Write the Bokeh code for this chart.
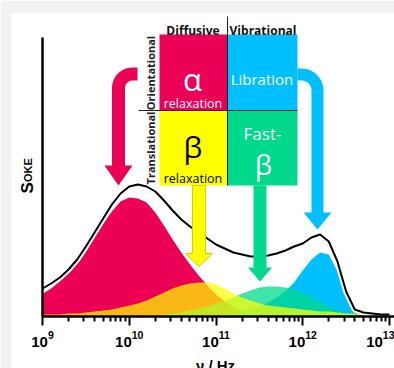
import math
from bokeh.plotting import figure
from bokeh.models import Range1d, LinearScale, FixedTicker, LinearAxis, LogAxis
from bokeh.core.properties import value
from bokeh.embed import file_html
from bokeh.resources import INLINE

# ---- data (heights in px above the baseline) ----
log_nu = [9.0, 9.1, 9.2, 9.3, 9.4, 9.5, 9.6, 9.7, 9.8, 9.9,
          10.0, 10.1, 10.2, 10.3, 10.4, 10.5, 10.6, 10.7, 10.8, 10.9,
          11.0, 11.1, 11.2, 11.3, 11.4, 11.5, 11.6, 11.7, 11.8, 11.9,
          12.0, 12.1, 12.2, 12.3, 12.4, 12.5, 12.6, 12.7, 12.8, 12.9, 13.0]
alpha_relax = [22.5, 28, 35, 44, 54, 66, 79, 93, 105, 115,
               119, 118, 114, 104, 91, 77, 64, 52, 41, 31,
               22, 15, 9, 5, 3, 1.5, 0.5, 0, 0, 0,
               0, 0, 0, 0, 0, 0, 0, 0, 0, 0, 0]
beta_relax = [2, 2, 2, 3, 3, 4, 5, 6, 7, 9,
              11, 13, 16, 20, 24, 28, 31, 33, 34, 34,
              32, 28, 23, 19, 16, 13, 11, 10, 9, 8,
              7, 6, 5, 5, 4, 3, 3, 2, 2, 2, 1]
fast_beta = [0, 0, 0, 0, 0, 0, 0, 0, 0, 0,
             0, 0, 0, 1, 2, 3, 4, 6, 8, 10,
             13, 16, 19, 23, 26, 29, 30, 30, 29, 27,
             24, 20, 15, 10, 6, 3, 1, 0, 0, 0, 0]
libration = [0, 0, 0, 0, 0, 0, 0, 0, 0, 0,
             0, 0, 0, 0, 0, 0, 0, 0, 0, 0,
             1, 2, 3, 5, 7, 10, 14, 19, 25, 34,
             46, 57, 64, 62, 45, 20, 4, 1, 0, 0, 0]
total_soke = [28, 33, 39, 47, 57, 70, 84, 98, 112, 123,
              130, 132, 130, 125, 116, 106, 97, 90, 84, 78,
              72, 68, 64, 62, 60, 60, 61, 63, 66, 70,
              73, 79, 82, 75, 55, 25, 7, 4, 3, 2, 2]
decades = [9, 10, 11, 12, 13]

nu = [10 ** v for v in log_nu]

RED, YEL, GRN, BLU = "#eb0055", "#ffff00", "#00d98b", "#00bfff"
GRAY = "#f2f2f2"
FONT = value("Open Sans")
AFONT = value("Liberation Sans")

def Y(py):
    # page-pixel row -> y coordinate (baseline at row 316)
    return 316 - py

W, H = 394, 368
DEC = 86.75  # px per decade
p = figure(width=W, height=H, output_backend="svg", toolbar_location=None,
           x_axis_type="log", x_axis_location=None, y_axis_location=None,
           min_border_left=0, min_border_right=0, min_border_top=0,
           min_border_bottom=0)
p.x_range = Range1d(10 ** (9 - 42 / DEC), 10 ** (9 + 352 / DEC))
p.y_range = Range1d(Y(368), Y(0))
p.extra_x_ranges = {"px": Range1d(0, 394)}
p.extra_x_scales = {"px": LinearScale()}
p.outline_line_color = None
p.grid.visible = False
p.background_fill_color = "white"
p.border_fill_color = "white"

# page frame (light grey strips at left and top)
p.quad(left=[0, 0], right=[11, 394], top=[Y(0), Y(0)], bottom=[Y(368), Y(13)],
       fill_color=GRAY, line_color=None, x_range_name="px")

# ---- axes ----
minor = [k * 10 ** d for d in decades[:-1] for k in range(2, 10)]
xax = LogAxis(ticker=FixedTicker(ticks=[10 ** d for d in decades], minor_ticks=minor),
              fixed_location=0, bounds=(1e9, 10 ** (9 + 352 / DEC)),
              axis_line_width=2.5, axis_line_color="black",
              major_tick_out=9, major_tick_in=0, minor_tick_out=5, minor_tick_in=0,
              major_tick_line_width=2, minor_tick_line_width=2,
              major_label_standoff=5,
              major_label_text_font="Liberation Sans", major_label_text_font_style="bold",
              major_label_text_font_size="15px", major_label_text_color="black")
p.add_layout(xax, "below")
yax = LinearAxis(ticker=FixedTicker(ticks=[]), fixed_location=1e9, bounds=(0, Y(37)),
                 axis_line_width=2.5, axis_line_color="black",
                 major_tick_out=0, minor_tick_out=0, major_label_text_font_size="0px")
p.add_layout(yax, "left")

# ---- component fills ----
p.varea(x=nu, y1=0, y2=alpha_relax, fill_color=RED, fill_alpha=1.0)
p.varea(x=nu, y1=0, y2=libration, fill_color=BLU, fill_alpha=1.0)
p.varea(x=nu, y1=0, y2=fast_beta, fill_color=GRN, fill_alpha=0.75)
p.varea(x=nu, y1=0, y2=beta_relax, fill_color=YEL, fill_alpha=0.72)
p.line(x=nu, y=total_soke, line_color="white", line_width=6)
p.line(x=nu, y=total_soke, line_color="black", line_width=2)

# ---- boxes ----
p.quad(left=[159, 227, 159, 227], right=[227, 297, 227, 297],
       top=[Y(34), Y(34), Y(110), Y(110)], bottom=[Y(110), Y(110), Y(185), Y(185)],
       fill_color=[RED, BLU, YEL, GRN], line_color=None, x_range_name="px")
p.segment(x0=[227, 138], y0=[Y(16), Y(110)], x1=[227, 297], y1=[Y(185), Y(110)],
          line_color="#222222", line_width=1, x_range_name="px")

# ---- arrows ----
def arc_path(x_start, y_row, cx, cy_row, r, a0, a1, x_end_col, y_end_row):
    xs, ys = [x_start], [Y(y_row)]
    for i in range(13):
        a = math.radians(a0 + (a1 - a0) * i / 12)
        xs.append(cx + r * math.cos(a))
        ys.append(Y(cy_row) + r * math.sin(a))
    xs.append(x_end_col)
    ys.append(Y(y_end_row))
    return xs, ys

rx, ry = arc_path(137, 73.5, 132, 87.5, 14, 90, 180, 118, 166)
p.line(rx, ry, line_color=RED, line_width=13, line_join="round", x_range_name="px")
p.patch([104, 132, 118], [Y(165), Y(165), Y(185)], fill_color=RED, line_color=None,
        x_range_name="px")

bx, by = arc_path(297, 74, 301, 90, 16, 90, 0, 317, 213)
p.line(bx, by, line_color=BLU, line_width=12, line_join="round", x_range_name="px")
p.patch([303, 331, 317], [Y(212), Y(212), Y(229)], fill_color=BLU, line_color=None,
        x_range_name="px")

p.patch([192, 205, 205, 212, 198.5, 185, 192],
        [Y(185), Y(185), Y(253), Y(253), Y(266), Y(253), Y(253)],
        fill_color=YEL, line_color="#d6cf00", line_width=1, x_range_name="px")
p.patch([253, 266, 266, 271.5, 259.5, 247.5, 253],
        [Y(185), Y(185), Y(267), Y(267), Y(281), Y(267), Y(267)],
        fill_color=GRN, line_color=None, x_range_name="px")

# ---- texts ----
p.text(x=[192.5, 262.5], y=[Y(30), Y(30)], text=["Diffusive", "Vibrational"],
       text_font=FONT, text_font_style="bold", text_font_size="12px",
       text_color="#111111", text_align="center", text_baseline="alphabetic",
       x_range_name="px")
p.text(x=[192], y=[Y(78)], text=["α"], text_font=FONT, text_font_size="31px",
       text_color="white", text_align="center", text_baseline="alphabetic", x_range_name="px")
p.text(x=[192.5], y=[Y(103)], text=["relaxation"], text_font=FONT, text_font_size="12.5px",
       text_color="white", text_align="center", text_baseline="alphabetic", x_range_name="px")
p.text(x=[192.5], y=[Y(146)], text=["β"], text_font=FONT, text_font_size="30px",
       text_color="black", text_align="center", text_baseline="alphabetic", x_range_name="px")
p.text(x=[192.5], y=[Y(178)], text=["relaxation"], text_font=FONT, text_font_size="12.5px",
       text_color="black", text_align="center", text_baseline="alphabetic", x_range_name="px")
p.text(x=[261.5], y=[Y(78)], text=["Libration"], text_font=FONT, text_font_size="15px",
       text_color="white", text_align="center", text_baseline="alphabetic", x_range_name="px")
p.text(x=[262], y=[Y(133)], text=["Fast-"], text_font=FONT, text_font_size="17px",
       text_color="white", text_align="center", text_baseline="alphabetic", x_range_name="px")
p.text(x=[263], y=[Y(164)], text=["β"], text_font=FONT, text_font_size="27px",
       text_color="white", text_align="center", text_baseline="alphabetic", x_range_name="px")
p.text(x=[150, 150], y=[Y(72.5), Y(147.5)], text=["Orientational", "Translational"],
       angle=math.pi / 2, text_font=FONT, text_font_style="bold", text_font_size="11px",
       text_color="#222222", text_align="center", text_baseline="alphabetic",
       x_range_name="px")

# axis titles
p.text(x=[27], y=[Y(193)], text=["S"], angle=math.pi / 2,
       text_align="left", text_baseline="alphabetic", text_font=AFONT,
       text_font_style="bold", text_font_size="17px", text_color="black",
       x_range_name="px")
p.text(x=[27], y=[Y(181.5)], text=["OKE"], angle=math.pi / 2,
       text_align="left", text_baseline="alphabetic", text_font=AFONT,
       text_font_style="bold", text_font_size="11px", text_color="black",
       x_range_name="px")
p.text(x=[215], y=[Y(356)], text=["ν / Hz"],
       text_align="center", text_baseline="top", text_font=AFONT,
       text_font_style="bold", text_font_size="15px", text_color="black",
       x_range_name="px")

open("out.html", "w").write(file_html(p, INLINE))
